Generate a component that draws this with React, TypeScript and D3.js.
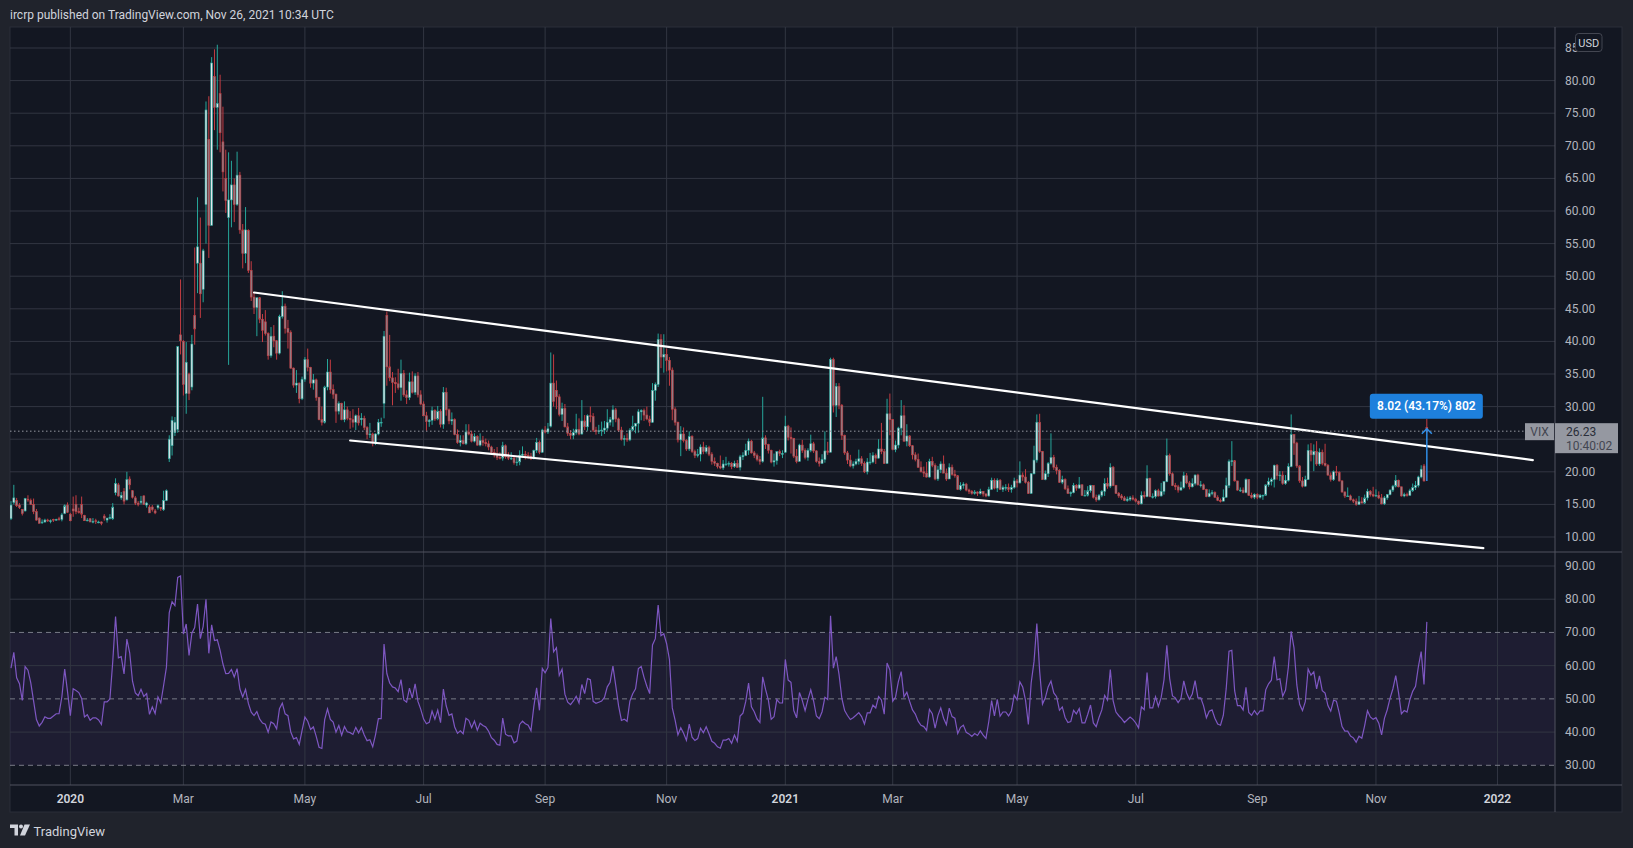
import React, { useEffect } from "react";
import * as d3 from "d3";

// ---- data (VIX daily) ----
// closes before the visible window, only used to warm up the RSI
const warmupCloses = [
  18.56, 20.56, 19.12, 17.04, 17.86, 20.28, 18.64, 17.57, 15.58, 14.57, 13.54, 13.68, 13.79, 14.25, 14.0, 14.46,
  14.01, 13.71, 12.65, 13.11, 13.2, 12.33, 13.22,
  12.3, 12.83, 13.1, 12.62, 12.73, 12.07, 12.69, 12.68, 13.0, 13.05, 12.05, 12.46, 12.86, 12.78, 12.66, 12.34,
  11.87, 11.54, 11.75, 12.62,
];

// [open, high, low, close]
const ohlc2019 = [
  [12.8, 15.5, 12.6, 14.9], [15.3, 18.0, 15.0, 16.0], [15.6, 16.0, 14.6, 14.8], [14.9, 15.2, 14.3, 14.5], [14.2, 14.3, 13.3, 13.6],
  [14.0, 16.0, 13.9, 15.9], [15.8, 16.4, 15.4, 15.7], [15.6, 15.9, 14.9, 15.0], [15.0, 15.9, 13.5, 13.9], [13.9, 14.3, 12.5, 12.6],
  [12.9, 13.0, 12.1, 12.1], [12.2, 12.7, 12.0, 12.3], [12.3, 12.8, 12.2, 12.6], [12.6, 12.8, 12.3, 12.5], [12.4, 12.7, 12.1, 12.5],
  [12.7, 12.8, 12.3, 12.6], [12.6, 12.8, 12.5, 12.7], [12.8, 13.1, 12.5, 12.7], [12.7, 13.7, 12.4, 13.4],
  [13.6, 15.0, 13.5, 14.8], [14.9, 15.3, 13.7, 13.8],
];

const ohlc2020 = [
  // Jan
  [13.5, 13.7, 12.4, 12.5], [14.3, 16.2, 13.1, 14.0],
  [15.0, 16.4, 13.5, 13.9], [13.9, 14.5, 13.6, 13.8], [15.0, 16.2, 12.9, 13.5], [13.3, 13.4, 12.5, 12.5], [12.6, 12.9, 12.4, 12.6],
  [12.8, 12.9, 12.3, 12.3], [12.4, 12.9, 12.1, 12.4], [12.5, 12.8, 12.0, 12.4], [12.3, 12.5, 12.1, 12.3], [12.3, 12.4, 11.8, 12.1],
  [13.2, 13.5, 12.5, 12.9], [12.6, 12.9, 12.2, 12.9], [13.0, 13.5, 12.7, 13.0], [12.8, 15.2, 12.6, 14.6],
  [16.8, 19.0, 16.4, 18.2], [18.0, 18.3, 16.2, 16.3], [16.0, 16.9, 15.7, 16.4], [17.0, 17.5, 15.0, 15.5], [15.7, 20.0, 15.6, 18.8],
  // Feb
  [18.9, 19.3, 17.3, 18.0], [17.1, 17.2, 15.9, 16.1], [16.0, 16.3, 14.9, 15.2], [15.2, 15.5, 14.7, 15.0], [15.3, 16.3, 15.0, 15.5],
  [16.3, 16.4, 14.9, 15.0], [14.9, 15.4, 14.5, 15.2], [14.6, 14.9, 13.7, 13.7], [14.6, 14.9, 13.9, 14.2], [14.0, 14.3, 13.5, 13.7],
  [14.5, 15.0, 14.2, 14.8], [14.5, 14.6, 14.0, 14.4], [14.2, 17.1, 14.0, 15.6], [15.6, 17.3, 15.5, 17.1],
  [22.0, 25.6, 21.5, 25.0], [24.0, 28.5, 22.5, 27.9], [26.0, 28.4, 25.5, 27.6], [26.5, 39.3, 26.0, 39.2], [41.0, 49.5, 38.0, 40.1],
  // Mar
  [40.0, 40.2, 31.7, 33.4], [32.0, 39.9, 28.9, 36.8], [35.0, 35.2, 31.0, 32.0], [33.0, 41.0, 32.5, 39.6], [44.0, 54.4, 39.5, 41.9],
  [52.0, 62.1, 47.4, 54.5], [52.0, 59.0, 43.6, 47.3], [48.0, 54.2, 46.0, 53.9], [61.0, 76.8, 55.0, 75.5], [71.0, 77.6, 52.8, 57.8],
  [57.8, 83.6, 57.8, 82.7], [80.6, 84.8, 72.4, 75.9], [75.9, 85.5, 69.4, 76.5], [78.0, 80.9, 69.0, 72.0], [70.6, 76.0, 63.0, 66.0],
  [65.0, 69.4, 59.7, 61.6], [59.0, 69.0, 36.4, 61.7], [61.7, 67.7, 57.5, 64.0], [64.0, 65.0, 58.3, 61.0], [61.0, 69.1, 60.8, 65.5],
  [65.5, 66.0, 56.5, 57.1], [57.1, 58.0, 51.2, 53.5],
  // Apr
  [53.5, 60.6, 52.0, 57.1], [57.0, 57.2, 50.5, 50.9], [50.9, 52.3, 46.2, 46.8],
  [46.8, 47.5, 44.2, 45.2], [45.2, 46.7, 40.8, 46.7], [46.7, 46.8, 42.8, 43.4], [43.4, 44.2, 39.9, 41.7],
  [43.0, 44.8, 40.9, 41.2], [41.2, 41.4, 37.2, 37.8], [37.8, 42.2, 37.5, 40.8], [40.8, 42.5, 39.1, 40.1], [40.1, 40.2, 37.2, 38.2],
  [38.2, 44.1, 38.0, 43.8], [43.8, 47.7, 43.5, 45.4], [45.4, 45.8, 41.2, 42.0], [42.0, 43.3, 38.9, 41.4], [41.4, 41.7, 35.8, 35.9],
  [35.9, 36.0, 32.9, 33.3], [33.3, 35.6, 32.1, 33.6], [33.6, 33.7, 30.5, 31.2], [31.2, 34.6, 31.0, 34.2],
  // May
  [34.2, 37.6, 33.8, 37.2],
  [37.2, 38.9, 35.4, 36.0], [36.0, 36.1, 32.9, 33.6], [33.6, 35.0, 32.6, 34.1], [34.1, 34.3, 30.9, 31.4], [31.4, 31.5, 27.9, 28.0],
  [28.0, 30.0, 27.1, 27.6], [27.6, 33.2, 27.4, 33.0], [33.0, 37.3, 32.5, 35.3], [35.3, 37.2, 32.0, 32.6], [32.6, 33.4, 31.2, 31.9],
  [31.9, 32.0, 27.5, 29.3], [29.3, 30.8, 28.8, 30.5], [30.5, 30.6, 27.9, 28.0], [28.0, 30.8, 27.6, 29.5], [29.5, 30.0, 27.9, 28.2],
  [28.2, 29.3, 26.6, 28.0], [28.0, 29.6, 26.8, 27.6], [27.6, 28.8, 26.4, 28.6], [28.6, 29.8, 27.1, 27.5],
  // Jun
  [28.0, 29.0, 27.1, 28.2], [28.2, 28.6, 26.4, 26.8], [26.8, 27.0, 25.0, 25.7], [25.7, 27.5, 25.2, 25.8], [25.8, 26.0, 23.9, 24.5],
  [24.5, 25.9, 24.1, 25.8], [25.8, 28.1, 25.6, 27.6], [27.6, 28.3, 26.9, 27.6], [30.5, 41.6, 28.2, 40.8], [44.0, 44.6, 33.2, 36.1],
  [36.1, 41.0, 33.9, 34.4], [34.4, 35.3, 30.2, 33.7], [33.7, 34.5, 32.1, 33.5], [33.5, 35.8, 32.6, 32.9], [32.9, 37.2, 30.9, 35.1],
  [35.1, 35.6, 31.5, 31.8], [31.8, 32.5, 30.4, 31.4], [31.4, 35.2, 31.0, 33.8], [33.8, 35.4, 32.0, 32.2], [32.2, 35.1, 31.8, 34.7],
  [34.7, 35.3, 31.4, 31.8], [31.8, 32.5, 30.2, 30.4],
  // Jul
  [30.4, 30.8, 28.5, 28.6], [28.6, 29.2, 26.3, 27.7],
  [27.7, 28.1, 26.9, 27.9], [27.9, 30.0, 27.2, 29.4], [29.4, 29.6, 27.8, 28.1], [28.1, 30.1, 27.9, 29.3], [29.3, 29.6, 26.8, 27.3],
  [27.3, 33.0, 26.6, 32.2], [32.2, 32.9, 28.6, 29.5], [29.5, 29.7, 27.3, 27.8], [27.8, 29.1, 27.2, 28.0], [28.0, 28.2, 25.6, 25.7],
  [25.7, 26.5, 24.3, 24.5], [24.5, 25.6, 23.9, 24.8], [24.8, 25.6, 24.2, 24.3], [24.3, 27.3, 24.1, 26.1], [26.1, 27.3, 25.6, 25.8],
  [25.8, 26.3, 24.5, 24.7], [24.7, 25.9, 24.5, 25.4], [25.4, 25.6, 24.0, 24.1], [24.1, 25.9, 23.9, 24.8], [24.8, 25.5, 24.0, 24.5],
  // Aug
  [24.5, 25.1, 23.9, 24.3], [24.3, 24.8, 23.3, 23.8], [23.8, 24.0, 22.6, 23.0], [23.0, 23.5, 22.2, 22.7], [22.7, 23.8, 21.8, 22.2],
  [22.2, 23.0, 21.9, 22.1], [22.1, 24.6, 21.7, 24.0], [24.0, 24.2, 22.0, 22.3], [22.3, 23.0, 21.8, 22.1], [22.1, 23.0, 21.8, 22.1],
  [22.1, 22.4, 21.1, 21.4], [21.4, 22.2, 20.9, 21.5], [21.5, 23.3, 21.0, 22.5], [22.5, 23.9, 22.2, 22.7], [22.7, 23.2, 21.9, 22.5],
  [22.5, 23.0, 22.0, 22.4], [22.4, 22.9, 21.8, 22.0], [22.0, 23.4, 21.9, 23.3], [23.3, 25.2, 22.9, 24.5], [24.5, 24.8, 22.7, 23.0],
  [23.0, 26.6, 22.9, 26.4],
  // Sep
  [26.4, 27.0, 25.9, 26.1], [26.1, 27.5, 25.8, 26.6], [27.0, 38.3, 26.8, 33.6], [33.6, 38.0, 30.0, 30.8],
  [32.5, 34.0, 29.6, 31.5], [31.5, 31.9, 28.5, 28.8], [28.8, 30.6, 27.8, 29.7], [29.7, 30.4, 26.8, 26.9],
  [26.9, 27.5, 25.5, 25.9], [25.9, 26.4, 25.0, 25.6], [25.6, 26.6, 25.0, 26.0], [26.0, 28.9, 25.7, 26.5], [26.5, 28.2, 25.6, 25.8],
  [25.8, 31.0, 25.7, 27.8], [27.8, 28.7, 26.4, 26.9], [26.9, 28.8, 26.3, 28.6], [28.6, 30.0, 27.6, 28.5], [28.5, 29.0, 26.1, 26.4],
  [26.4, 26.9, 25.7, 26.2], [26.2, 27.2, 25.8, 26.3], [26.3, 27.7, 25.5, 26.4],
  // Oct
  [26.4, 27.8, 25.8, 26.7], [26.7, 29.6, 26.3, 27.6],
  [27.6, 28.4, 27.1, 28.0], [28.0, 30.2, 26.9, 29.5], [29.5, 29.8, 27.6, 28.1], [28.1, 28.3, 26.1, 26.4], [26.4, 26.9, 24.8, 25.0],
  [25.0, 25.6, 24.0, 25.1], [25.1, 25.9, 24.6, 24.9], [24.9, 26.7, 24.7, 26.4], [26.4, 28.6, 26.2, 27.0], [27.0, 27.5, 25.9, 27.4],
  [27.4, 29.6, 26.0, 29.2], [29.2, 29.6, 27.9, 29.4], [29.4, 29.7, 27.8, 28.7], [28.7, 30.0, 27.9, 28.1], [28.1, 28.6, 27.0, 27.6],
  [27.6, 33.6, 27.5, 32.5], [32.5, 33.7, 30.9, 33.4], [33.4, 41.2, 33.0, 40.3], [40.3, 41.1, 35.9, 37.6], [37.6, 41.1, 35.2, 38.0],
  // Nov
  [38.0, 38.9, 35.4, 37.1], [37.1, 37.6, 33.2, 35.6], [35.6, 36.0, 27.9, 29.6], [29.6, 29.9, 27.1, 27.6], [27.6, 27.7, 24.5, 24.9],
  [24.9, 27.0, 22.4, 25.8], [25.8, 26.8, 24.5, 24.8], [24.8, 25.0, 23.2, 23.5], [23.5, 26.2, 23.2, 25.4], [25.4, 25.6, 22.9, 23.1],
  [23.1, 23.4, 22.1, 22.5], [22.5, 23.5, 22.2, 22.7], [22.7, 24.2, 21.6, 23.8], [23.8, 24.6, 22.7, 23.1], [23.1, 24.1, 22.8, 23.7],
  [23.7, 24.0, 22.4, 22.7], [22.7, 23.0, 21.1, 21.6], [21.6, 22.2, 20.9, 21.3], [21.3, 21.4, 20.5, 20.8],
  [20.8, 22.5, 20.4, 20.6],
  // Dec
  [20.6, 21.8, 20.3, 21.2], [21.2, 22.3, 20.9, 21.2], [21.2, 21.6, 20.8, 21.3], [21.3, 21.5, 20.4, 20.8],
  [20.8, 21.7, 20.6, 21.3], [21.3, 21.8, 20.6, 20.7], [20.7, 22.6, 20.2, 22.3], [22.3, 23.0, 21.8, 22.5], [22.5, 24.3, 22.4, 23.3],
  [23.3, 25.1, 22.6, 24.7], [24.7, 24.9, 22.8, 22.9], [22.9, 23.2, 22.1, 22.5], [22.5, 22.8, 21.6, 21.9], [21.9, 22.4, 21.1, 21.6],
  [21.6, 31.5, 21.4, 25.2], [25.2, 25.6, 23.5, 24.2], [24.2, 24.3, 22.8, 23.3], [23.3, 23.4, 21.3, 21.5],
  [21.5, 22.8, 20.8, 21.7], [21.7, 23.1, 21.1, 23.1], [23.1, 23.4, 22.4, 22.8], [22.8, 23.3, 22.1, 22.8],
];

const ohlc2021 = [
  // Jan
  [23.0, 28.6, 22.9, 27.0], [27.0, 27.2, 24.8, 25.3], [25.3, 26.8, 22.8, 25.1], [25.1, 25.2, 22.1, 22.4], [22.4, 23.5, 21.3, 21.6],
  [21.6, 24.3, 21.6, 24.1], [24.1, 24.9, 22.9, 23.3], [23.3, 23.6, 21.9, 22.2], [22.2, 23.6, 21.7, 23.3], [23.3, 25.7, 23.0, 24.3],
  [24.3, 24.6, 22.9, 23.2], [23.2, 23.3, 21.4, 21.6], [21.6, 22.2, 20.8, 21.3], [21.3, 22.7, 21.2, 21.9],
  [21.9, 26.2, 21.4, 23.2], [23.2, 24.6, 22.6, 23.0], [23.0, 37.5, 23.0, 37.2], [37.2, 37.5, 29.1, 30.2], [30.2, 33.6, 28.4, 33.1],
  // Feb
  [33.1, 33.6, 29.6, 30.2], [30.2, 30.4, 24.9, 25.6], [25.6, 25.7, 22.6, 22.9], [22.9, 23.2, 21.2, 21.8], [21.8, 22.6, 20.7, 20.9],
  [20.9, 21.6, 20.5, 21.2], [21.2, 22.0, 21.0, 21.6], [21.6, 23.4, 21.1, 22.0], [22.0, 22.4, 20.9, 21.3], [21.3, 21.6, 19.8, 20.0],
  [20.0, 22.1, 19.6, 21.5], [21.5, 22.9, 21.1, 21.5], [21.5, 23.0, 21.3, 22.5], [22.5, 22.8, 21.2, 22.1],
  [22.1, 25.0, 22.0, 23.5], [23.5, 27.5, 22.7, 23.1], [23.1, 23.5, 21.2, 21.3], [21.3, 31.2, 21.2, 28.9], [28.9, 32.0, 25.6, 28.0],
  // Mar
  [28.0, 28.1, 23.3, 23.4], [23.4, 24.8, 23.0, 24.1], [24.1, 26.9, 23.6, 26.7], [26.7, 31.0, 25.6, 28.6], [28.6, 30.2, 24.6, 24.7],
  [24.7, 27.3, 23.9, 25.5], [25.5, 25.6, 23.8, 24.0], [24.0, 24.1, 21.9, 22.6], [22.6, 23.0, 21.6, 21.9], [21.9, 22.8, 20.6, 20.7],
  [20.7, 21.6, 19.9, 20.0], [20.0, 20.8, 19.2, 19.8], [19.8, 21.5, 19.1, 19.2], [19.2, 22.0, 19.1, 21.6], [21.6, 22.3, 20.7, 21.0],
  [21.0, 21.3, 18.7, 18.9], [18.9, 20.9, 18.6, 20.3], [20.3, 21.6, 19.8, 21.2], [21.2, 22.5, 19.8, 19.8], [19.8, 20.5, 18.6, 18.9],
  [18.9, 21.3, 18.9, 20.7], [20.7, 21.1, 19.4, 19.6], [19.6, 20.3, 19.1, 19.4],
  // Apr
  [19.4, 19.5, 17.2, 17.3],
  [17.3, 18.4, 17.1, 17.9], [17.9, 18.4, 17.4, 18.1], [18.1, 18.3, 17.0, 17.2], [17.2, 17.4, 16.6, 17.0], [17.0, 17.2, 16.5, 16.7],
  [16.7, 17.2, 16.5, 16.9], [16.9, 17.0, 16.3, 16.7], [16.7, 17.4, 16.5, 17.0], [17.0, 17.0, 16.2, 16.6], [16.6, 16.7, 16.1, 16.3],
  [16.3, 17.7, 16.2, 17.3], [17.3, 19.1, 17.2, 18.7], [18.7, 19.0, 17.3, 17.5], [17.5, 19.0, 16.9, 18.7], [18.7, 18.9, 17.2, 17.3],
  [17.3, 17.9, 16.9, 17.6], [17.6, 18.1, 17.1, 17.6], [17.6, 18.2, 16.9, 17.3], [17.3, 18.0, 16.8, 17.6], [17.6, 19.1, 17.4, 18.6],
  // May
  [18.6, 18.9, 17.6, 18.3], [18.3, 21.6, 18.2, 19.5], [19.5, 19.9, 18.6, 19.2], [19.2, 20.4, 18.2, 18.4], [18.4, 18.6, 16.6, 16.7],
  [16.7, 19.8, 16.6, 19.7], [19.7, 24.0, 19.6, 21.8], [21.8, 28.8, 21.4, 27.6], [27.6, 28.9, 22.9, 23.1], [23.1, 23.2, 18.8, 18.8],
  [18.8, 20.2, 18.7, 19.7], [19.7, 21.5, 19.2, 21.3], [21.3, 25.9, 21.1, 22.2], [22.2, 22.6, 20.3, 20.7], [20.7, 21.1, 19.6, 20.2],
  [20.2, 20.4, 18.3, 18.4], [18.4, 19.4, 18.1, 18.8], [18.8, 19.0, 17.2, 17.4], [17.4, 17.9, 16.6, 16.7], [16.7, 17.0, 16.2, 16.8],
  // Jun
  [16.8, 18.3, 16.7, 17.9], [17.9, 18.1, 17.1, 17.5], [17.5, 19.2, 17.4, 18.0], [18.0, 18.1, 16.3, 16.4],
  [16.4, 17.2, 16.3, 16.4], [16.4, 17.8, 16.2, 17.1], [17.1, 18.0, 16.8, 17.9], [17.9, 17.9, 15.9, 16.1], [16.1, 16.5, 15.4, 15.7],
  [15.7, 16.6, 15.6, 16.4], [16.4, 17.2, 16.1, 17.0], [17.0, 19.0, 16.3, 18.2], [18.2, 19.1, 17.4, 17.8], [17.8, 21.3, 17.5, 20.7],
  [20.7, 20.9, 17.8, 17.9], [17.9, 18.0, 16.6, 16.7], [16.7, 16.9, 16.0, 16.3], [16.3, 16.6, 15.7, 16.0], [16.0, 16.3, 15.5, 15.6],
  [15.6, 16.2, 15.4, 15.8], [15.8, 16.3, 15.5, 16.0], [16.0, 16.4, 15.6, 15.8],
  // Jul
  [15.8, 16.0, 15.3, 15.5], [15.5, 15.6, 14.9, 15.1],
  [15.1, 17.0, 15.0, 16.4], [16.4, 17.0, 15.9, 16.2], [16.2, 21.0, 16.1, 19.0], [19.0, 19.1, 16.1, 16.2],
  [16.2, 16.7, 15.9, 16.2], [16.2, 17.3, 15.9, 17.1], [17.1, 17.4, 16.2, 16.3], [16.3, 18.3, 16.2, 17.0], [17.0, 18.5, 16.5, 18.5],
  [18.5, 25.1, 18.4, 22.5], [22.5, 22.8, 19.4, 19.7], [19.7, 19.9, 17.8, 17.9], [17.9, 18.3, 17.2, 17.7], [17.7, 18.0, 16.8, 17.2],
  [17.2, 18.5, 17.1, 17.6], [17.6, 20.0, 17.4, 19.4], [19.4, 19.8, 18.1, 18.3], [18.3, 18.6, 17.3, 17.7], [17.7, 19.0, 17.6, 18.2],
  // Aug
  [18.2, 19.6, 17.9, 19.5], [19.5, 19.7, 17.9, 18.0], [18.0, 18.6, 17.6, 18.0], [18.0, 18.2, 17.2, 17.3], [17.3, 17.4, 16.1, 16.2],
  [16.2, 17.3, 16.1, 16.7], [16.7, 17.2, 16.4, 16.8], [16.8, 17.0, 16.0, 16.1], [16.1, 16.4, 15.5, 15.6], [15.6, 15.9, 15.3, 15.5],
  [15.5, 17.3, 15.5, 16.1], [16.1, 19.1, 16.0, 17.9], [17.9, 21.9, 17.5, 21.6], [21.6, 24.7, 20.9, 21.7], [21.7, 21.8, 18.5, 18.6],
  [18.6, 18.6, 17.1, 17.2], [17.2, 17.6, 16.9, 17.2], [17.2, 17.6, 16.7, 16.8], [16.8, 19.0, 16.7, 18.8], [18.8, 18.9, 16.3, 16.4],
  [16.4, 16.8, 15.9, 16.1], [16.1, 16.7, 15.8, 16.5],
  // Sep
  [16.5, 16.7, 15.8, 16.1], [16.1, 16.6, 15.9, 16.4], [16.4, 16.5, 15.7, 16.4],
  [16.4, 18.0, 16.4, 18.0], [18.0, 19.1, 17.7, 18.5], [18.5, 19.1, 17.9, 18.8], [18.8, 21.1, 17.6, 21.0],
  [21.0, 21.2, 18.8, 19.4], [19.4, 20.1, 18.6, 19.5], [19.5, 20.1, 18.0, 18.2], [18.2, 19.5, 18.0, 18.7], [18.7, 21.3, 18.5, 20.8],
  [20.8, 28.8, 20.7, 25.7], [25.7, 25.8, 22.6, 24.4], [24.4, 24.6, 20.6, 20.9], [20.9, 21.0, 18.3, 18.6], [18.6, 19.2, 17.6, 17.8],
  [17.8, 19.4, 17.7, 18.8], [18.8, 24.2, 18.8, 23.3], [23.3, 24.4, 21.6, 22.6], [22.6, 24.2, 20.1, 23.1],
  // Oct
  [23.1, 24.7, 20.9, 21.2],
  [21.2, 23.6, 20.9, 23.0], [23.0, 23.4, 21.0, 21.3], [21.3, 24.3, 20.8, 21.0], [21.0, 21.2, 19.4, 19.5], [19.5, 19.9, 18.5, 18.8],
  [18.8, 20.2, 18.6, 20.0], [20.0, 20.9, 19.4, 19.9], [19.9, 20.1, 18.5, 18.6], [18.6, 18.7, 16.8, 16.9], [16.9, 17.0, 16.0, 16.3],
  [16.3, 17.6, 16.2, 16.3], [16.3, 16.5, 15.6, 15.7], [15.7, 15.9, 15.2, 15.5], [15.5, 15.9, 14.8, 15.0], [15.0, 16.3, 14.9, 15.4],
  [15.4, 16.1, 15.2, 15.2], [15.2, 16.5, 15.1, 16.0], [16.0, 17.4, 15.6, 17.0], [17.0, 17.2, 16.2, 16.5], [16.5, 17.7, 16.1, 16.3],
  // Nov
  [16.3, 17.3, 16.2, 16.4], [16.4, 17.0, 15.8, 16.0], [16.0, 16.6, 15.0, 15.1], [15.1, 16.3, 14.9, 16.0], [16.0, 16.6, 15.7, 16.5],
  [16.5, 17.3, 16.4, 17.2], [17.2, 18.0, 16.9, 17.8], [17.8, 19.5, 17.6, 18.7], [18.7, 18.8, 17.6, 17.7], [17.7, 17.7, 16.2, 16.3],
  [16.3, 16.8, 16.1, 16.5], [16.5, 16.8, 16.2, 16.4], [16.4, 17.4, 16.3, 17.1], [17.1, 18.2, 16.9, 17.6], [17.6, 18.6, 17.2, 17.9],
  [17.9, 19.4, 17.6, 19.2], [19.2, 21.0, 19.0, 20.4], [20.9, 21.2, 18.5, 18.6], [26.8, 28.1, 26.0, 26.23],
];

const holidays = [
  "2019-12-25", "2020-01-01", "2020-01-20", "2020-02-17", "2020-04-10", "2020-05-25", "2020-07-03", "2020-09-07",
  "2020-11-26", "2020-12-25", "2021-01-01", "2021-01-18", "2021-02-15", "2021-04-02", "2021-05-31", "2021-07-05",
  "2021-09-06", "2021-11-25", "2021-12-24",
];

const priceTicks = [10, 15, 20, 25, 30, 35, 40, 45, 50, 55, 60, 65, 70, 75, 80, 85];
const rsiTicks = [30, 40, 50, 60, 70, 80, 90];
const rsiDashed = [70, 50, 30];
const timeTicks = ["2020-01", "2020-03", "2020-05", "2020-07", "2020-09", "2020-11", "2021-01", "2021-03", "2021-05", "2021-07", "2021-09", "2021-11", "2022-01"];
const timeTickLabels = ["2020", "Mar", "May", "Jul", "Sep", "Nov", "2021", "Mar", "May", "Jul", "Sep", "Nov", "2022"];

// drawn trend lines: bar index (from first visible bar) and price
const upperTrend = [{ bar: 86, price: 47.5 }, { bar: 538.5, price: 21.8 }];
const lowerTrend = [{ bar: 120, price: 24.8 }, { bar: 521, price: 8.3 }];

const measure = { from: 18.58, to: 26.6, label: "8.02 (43.17%) 802" };
const lastLabel = { symbol: "VIX", price: "26.23", countdown: "10:40:02" };

// ---- layout ----
const W = 1633;
const H = 848;
const L = 10;
const R = 1555;
const OUT_R = 1622;
const TOP = 27;
const SPLIT = 552;
const RSI_BOTTOM = 785;
const AXIS_BOTTOM = 812;
const BAR_W = 2.826;
const FIRST_X = 11;

const FONT = "Roboto, 'Liberation Sans', Arial, sans-serif";
const BG = "#131722";
const PAGE = "#20232c";
const GRID = "#323642";
const TEXT = "#b2b5be";
const UP = "#26a69a";
const UP_BODY = "#e4e6ec";
const DOWN = "#c43c42";
const DOWN_BODY = "#8e8188";

const fmt = d3.utcFormat("%Y-%m-%d");
const days = d3.utcDay
  .range(new Date(Date.UTC(2019, 11, 2)), new Date(Date.UTC(2022, 1, 1)))
  .filter((d) => d.getUTCDay() % 6 !== 0 && !holidays.includes(fmt(d)));

const bars = [...ohlc2019, ...ohlc2020, ...ohlc2021].map((b, i) => ({
  i,
  date: days[i],
  o: b[0],
  h: b[1],
  l: b[2],
  c: b[3],
}));

function rsi(closes: number[], len = 14) {
  const out: (number | null)[] = closes.map(() => null);
  let up = 0;
  let dn = 0;
  for (let i = 1; i < closes.length; i++) {
    const ch = closes[i] - closes[i - 1];
    const g = Math.max(ch, 0);
    const l = Math.max(-ch, 0);
    if (i <= len) {
      up += g / len;
      dn += l / len;
      if (i < len) continue;
    } else {
      up = (up * (len - 1) + g) / len;
      dn = (dn * (len - 1) + l) / len;
    }
    out[i] = dn === 0 ? 100 : 100 - 100 / (1 + up / dn);
  }
  return out;
}

const allCloses = [...warmupCloses, ...bars.map((b) => b.c)];
const rsiValues = rsi(allCloses).slice(warmupCloses.length);

const x = d3.scaleLinear().domain([(L - FIRST_X) / BAR_W, (R - FIRST_X) / BAR_W]).range([L, R]);
const y = d3.scaleLinear().domain([10, 85]).range([537, 48]);
const yr = d3.scaleLinear().domain([30, 90]).range([765.3, 566]);

const tickPos = timeTicks.map((t) => days.findIndex((d) => fmt(d) >= `${t}-01`));

const rsiLine = d3
  .line<number | null>()
  .defined((v) => v != null)
  .x((_, i) => x(i))
  .y((v) => yr(v as number));

function TvLogo({ x0, y0 }: { x0: number; y0: number }) {
  return (
    <g fill="#d1d4dc" transform={`translate(${x0},${y0})`}>
      <path d="M0 0 H8 V11 H4.5 V3.5 H0 Z" />
      <circle cx={11} cy={2} r={2} />
      <path d="M14.5 0 H20 L15 11 H10 Z" />
    </g>
  );
}

export default function App() {
  useEffect(() => {
    document.body.style.margin = "0";
    document.body.style.background = PAGE;
    document.body.style.overflow = "hidden";
  }, []);

  const last = bars[bars.length - 1];
  const lastY = y(last.c);
  const mx = x(last.i);
  const my0 = y(measure.from);
  const my1 = y(measure.to);

  return (
    <svg width={W} height={H} style={{ position: "absolute", left: 0, top: 0, display: "block" }} fontFamily={FONT}>
      <defs>
        <clipPath id="pricePane">
          <rect x={L} y={TOP} width={R - L} height={SPLIT - TOP} />
        </clipPath>
        <clipPath id="rsiPane">
          <rect x={L} y={SPLIT} width={R - L} height={RSI_BOTTOM - SPLIT} />
        </clipPath>
      </defs>
      <rect width={W} height={H} fill={PAGE} />
      <text x={10} y={19} fill="#d1d4dc" fontSize={12}>
        ircrp published on TradingView.com, Nov 26, 2021 10:34 UTC
      </text>

      <rect x={L} y={TOP} width={OUT_R - L} height={AXIS_BOTTOM - TOP} fill={BG} stroke="#2a2e39" />

      {/* RSI band */}
      <rect x={L} y={yr(70)} width={R - L} height={yr(30) - yr(70)} fill="rgba(126,87,194,0.1)" />

      {/* grid */}
      <g stroke={GRID} strokeWidth={1}>
        {priceTicks.map((t) => (
          <line key={`p${t}`} x1={L} x2={R} y1={y(t)} y2={y(t)} />
        ))}
        {rsiTicks.filter((t) => !rsiDashed.includes(t)).map((t) => (
          <line key={`r${t}`} x1={L} x2={R} y1={yr(t)} y2={yr(t)} />
        ))}
        {tickPos.map((p, k) => (
          <line key={`v${k}`} x1={x(p)} x2={x(p)} y1={TOP} y2={RSI_BOTTOM} />
        ))}
      </g>
      <g stroke="#787b86" strokeWidth={1} strokeDasharray="5,4">
        {rsiDashed.map((t) => (
          <line key={t} x1={L} x2={R} y1={yr(t)} y2={yr(t)} />
        ))}
      </g>

      {/* candles */}
      <g clipPath="url(#pricePane)">
        {bars.map((b) => {
          const up = b.c >= b.o;
          const cx = x(b.i);
          const top = y(Math.max(b.o, b.c));
          const bot = y(Math.min(b.o, b.c));
          return (
            <g key={b.i}>
              <line x1={cx} x2={cx} y1={y(b.h)} y2={y(b.l)} stroke={up ? UP : DOWN} strokeWidth={1} />
              <rect
                x={cx - 0.95}
                y={top}
                width={1.9}
                height={Math.max(bot - top, 0.8)}
                fill={up ? UP_BODY : DOWN_BODY}
                stroke={up ? UP : DOWN}
                strokeWidth={0.6}
              />
            </g>
          );
        })}

        {/* trend lines */}
        {[upperTrend, lowerTrend].map((tl, k) => (
          <line
            key={k}
            x1={x(tl[0].bar)}
            y1={y(tl[0].price)}
            x2={x(tl[1].bar)}
            y2={y(tl[1].price)}
            stroke="#ffffff"
            strokeWidth={2.2}
            strokeLinecap="round"
          />
        ))}

        {/* last price line */}
        <line x1={L} x2={R - 30} y1={lastY} y2={lastY} stroke="#9598a1" strokeWidth={1} strokeDasharray="1.5,2.5" />

        {/* measure tool */}
        <line x1={mx} x2={mx} y1={my0} y2={my1} stroke="#2f8ee6" strokeWidth={1.5} />
        <polyline
          points={`${mx - 5},${my1 + 5} ${mx},${my1} ${mx + 5},${my1 + 5}`}
          fill="none"
          stroke="#2f8ee6"
          strokeWidth={1.5}
        />
        <rect x={mx - 57} y={my1 - 35} width={113} height={25} rx={3} fill="#1e80dc" />
        <text x={mx - 0.5} y={my1 - 18.5} fill="#ffffff" fontSize={12} fontWeight={600} textAnchor="middle">
          {measure.label}
        </text>
      </g>

      {/* RSI */}
      <g clipPath="url(#rsiPane)">
        <path d={rsiLine(rsiValues) ?? ""} fill="none" stroke="#7e57c2" strokeWidth={1.2} />
      </g>

      {/* separators */}
      <g stroke="#50535e" strokeWidth={1}>
        <line x1={L} x2={OUT_R} y1={SPLIT} y2={SPLIT} />
        <line x1={L} x2={OUT_R} y1={RSI_BOTTOM} y2={RSI_BOTTOM} />
        <line x1={R} x2={R} y1={TOP} y2={AXIS_BOTTOM} />
      </g>

      {/* price axis */}
      <g fill={TEXT} fontSize={12}>
        {priceTicks.map((t) => (
          <text key={t} x={1565} y={y(t) + 4}>
            {t.toFixed(2)}
          </text>
        ))}
        {rsiTicks.map((t) => (
          <text key={`r${t}`} x={1565} y={yr(t) + 4}>
            {t.toFixed(2)}
          </text>
        ))}
      </g>
      <rect x={1575.5} y={33.5} width={26.5} height={18} rx={3} fill={BG} stroke="#434651" />
      <text x={1588.8} y={46.5} fill="#d1d4dc" fontSize={11} textAnchor="middle">
        USD
      </text>

      {/* last value labels */}
      <rect x={R - 30} y={lastY - 8} width={29} height={17} fill="#9598a1" />
      <text x={R - 15.5} y={lastY + 4.5} fill="#434651" fontSize={12} textAnchor="middle">
        {lastLabel.symbol}
      </text>
      <rect x={R} y={lastY - 8} width={63} height={30} fill="#9598a1" />
      <text x={1566} y={lastY + 4.5} fill="#2a2e39" fontSize={12}>
        {lastLabel.price}
      </text>
      <text x={1566} y={lastY + 18.5} fill="#434651" fontSize={12}>
        {lastLabel.countdown}
      </text>

      {/* time axis */}
      <g fontSize={12} textAnchor="middle">
        {tickPos.map((p, k) => {
          const isYear = timeTickLabels[k].length === 4;
          return (
            <text
              key={k}
              x={x(p)}
              y={803}
              fill={isYear ? "#d1d4dc" : TEXT}
              fontWeight={isYear ? 600 : 400}
            >
              {timeTickLabels[k]}
            </text>
          );
        })}
      </g>

      <TvLogo x0={10} y0={824.5} />
      <text x={33.5} y={835.5} fill="#d1d4dc" fontSize={13}>
        TradingView
      </text>
    </svg>
  );
}
